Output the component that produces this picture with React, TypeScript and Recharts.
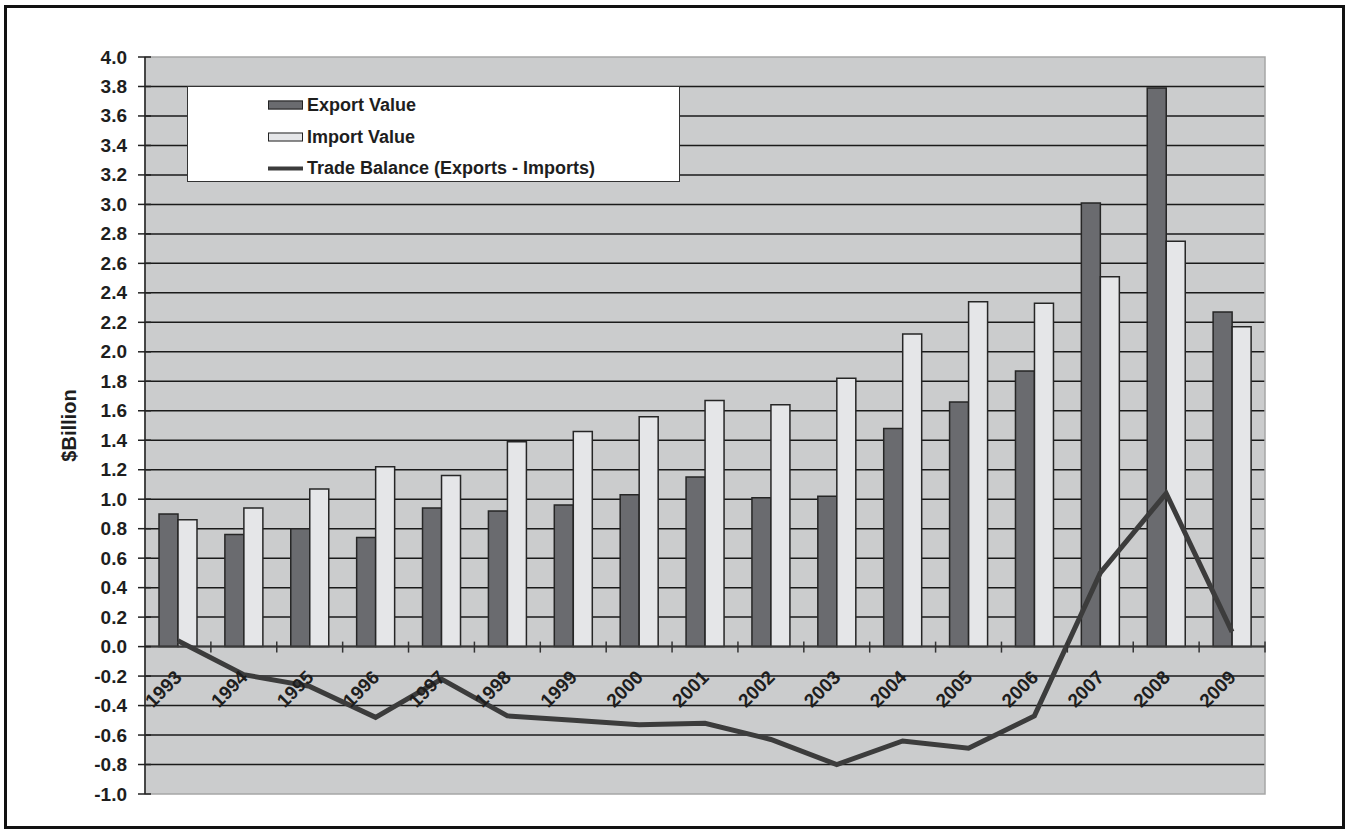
import {
  ComposedChart,
  Bar,
  Line,
  XAxis,
  YAxis,
  CartesianGrid,
  ReferenceLine,
  ReferenceArea,
} from "recharts";

const YEARS = [
  "1993", "1994", "1995", "1996", "1997", "1998", "1999", "2000", "2001",
  "2002", "2003", "2004", "2005", "2006", "2007", "2008", "2009",
];
const EXPORTS = [0.9, 0.76, 0.8, 0.74, 0.94, 0.92, 0.96, 1.03, 1.15, 1.01, 1.02, 1.48, 1.66, 1.87, 3.01, 3.79, 2.27];
const IMPORTS = [0.86, 0.94, 1.07, 1.22, 1.16, 1.39, 1.46, 1.56, 1.67, 1.64, 1.82, 2.12, 2.34, 2.33, 2.51, 2.75, 2.17];
const BALANCE = [0.04, -0.19, -0.27, -0.48, -0.22, -0.47, -0.5, -0.53, -0.52, -0.63, -0.8, -0.64, -0.69, -0.47, 0.5, 1.04, 0.1];

const Y_TICKS = [-1, -0.8, -0.6, -0.4, -0.2, 0, 0.2, 0.4, 0.6, 0.8, 1, 1.2, 1.4, 1.6, 1.8, 2, 2.2, 2.4, 2.6, 2.8, 3, 3.2, 3.4, 3.6, 3.8, 4];
const GRID_VALUES = Y_TICKS.filter((v) => v > -1 && v < 4);

const SERIES = {
  exports: "Export Value",
  imports: "Import Value",
  balance: "Trade Balance (Exports - Imports)",
};

const data = YEARS.map((year, i) => ({
  year,
  exports: EXPORTS[i],
  imports: IMPORTS[i],
  balance: BALANCE[i],
}));

// chart geometry
const W = 1346;
const H = 832;
const AXIS_X = 145;
const PLOT_TOP = 57;
const PLOT_RIGHT = 1265;
const X_AXIS_H = 38;
const PLOT_H = H - X_AXIS_H - PLOT_TOP;
const PLOT_W = PLOT_RIGHT - AXIS_X;
const BAND = PLOT_W / YEARS.length;
const Y_MIN = -1;
const Y_MAX = 4;
const ZERO_Y = PLOT_TOP + (PLOT_H * Y_MAX) / (Y_MAX - Y_MIN);

const FONT = "'Liberation Sans', Arial, Helvetica, sans-serif";
const INK = "#1e1e1e";
const EXPORT_FILL = "#6a6b6f";
const IMPORT_FILL = "#e5e6e8";
const LINE_COLOR = "#3c3c3c";

function YearTick(props: any) {
  const { x, payload } = props;
  const tx = x + 5;
  const ty = ZERO_Y + 32;
  return (
    <g>
      <line x1={x + BAND / 2} x2={x + BAND / 2} y1={ZERO_Y - 5} y2={ZERO_Y + 6} stroke="#333" strokeWidth={1.5} />
      <text
        x={tx}
        y={ty}
        transform={`rotate(-45 ${tx} ${ty})`}
        textAnchor="end"
        fontFamily={FONT}
        fontWeight="bold"
        fontSize={19}
        fill={INK}
      >
        {payload.value}
      </text>
    </g>
  );
}

function ValueTick(props: any) {
  const { y, payload } = props;
  return (
    <g>
      <line x1={AXIS_X - 7} x2={AXIS_X + 6} y1={y} y2={y} stroke="#222" strokeWidth={1.5} />
      <text
        x={AXIS_X - 18}
        y={y}
        textAnchor="end"
        dominantBaseline="central"
        fontFamily={FONT}
        fontWeight="bold"
        fontSize={19}
        fill={INK}
      >
        {Number(payload.value).toFixed(1)}
      </text>
    </g>
  );
}

function AxisTitle(props: any) {
  const { viewBox } = props;
  const cx = 69;
  const cy = viewBox.y + viewBox.height / 2;
  return (
    <text
      x={cx}
      y={cy}
      transform={`rotate(-90 ${cx} ${cy})`}
      textAnchor="middle"
      dominantBaseline="central"
      fontFamily={FONT}
      fontWeight="bold"
      fontSize={20}
      fill={INK}
    >
      $Billion
    </text>
  );
}

function LegendBox() {
  const rows = [
    { key: "exports", kind: "bar", fill: EXPORT_FILL, top: 18 },
    { key: "imports", kind: "bar", fill: IMPORT_FILL, top: 50 },
    { key: "balance", kind: "line", fill: LINE_COLOR, top: 81 },
  ];
  return (
    <div
      style={{
        position: "absolute",
        left: 187,
        top: 86,
        width: 493,
        height: 96,
        boxSizing: "border-box",
        background: "#fff",
        border: "1.5px solid #333",
        fontFamily: FONT,
        fontWeight: "bold",
        fontSize: 18,
        color: INK,
      }}
    >
      {rows.map((r) => (
        <div
          key={r.key}
          style={{ position: "absolute", left: 80, top: r.top, transform: "translateY(-50%)", display: "flex", alignItems: "center" }}
        >
          {r.kind === "bar" ? (
            <span
              style={{
                display: "inline-block",
                width: 35,
                height: 9,
                boxSizing: "border-box",
                background: r.fill,
                border: "1.5px solid #222",
              }}
            />
          ) : (
            <span style={{ display: "inline-block", width: 35, height: 4, background: r.fill }} />
          )}
          <span style={{ marginLeft: 4, whiteSpace: "nowrap" }}>{SERIES[r.key as keyof typeof SERIES]}</span>
        </div>
      ))}
    </div>
  );
}

export default function App() {
  return (
    <div style={{ position: "absolute", left: 0, top: 0, width: W, height: H, background: "#fff" }}>
      <ComposedChart
        width={W}
        height={H}
        data={data}
        margin={{ top: PLOT_TOP, right: W - PLOT_RIGHT, bottom: 0, left: 0 }}
        barGap={0}
      >
        <CartesianGrid
          vertical={false}
          horizontalValues={GRID_VALUES}
          stroke="#1a1a1a"
          strokeWidth={1.5}
          fill="#cbcccd"
          fillOpacity={1}
        />
        <ReferenceArea y1={Y_MIN} y2={Y_MAX} fill="none" stroke="#a6a6a6" strokeWidth={1.5} ifOverflow="visible" />
        <XAxis
          dataKey="year"
          height={X_AXIS_H}
          axisLine={false}
          tickLine={false}
          interval={0}
          tick={<YearTick />}
        />
        <YAxis
          width={AXIS_X}
          domain={[Y_MIN, Y_MAX]}
          ticks={Y_TICKS}
          interval={0}
          allowDataOverflow
          axisLine={{ stroke: "#222", strokeWidth: 1.5 }}
          tickLine={false}
          tick={<ValueTick />}
          label={<AxisTitle />}
        />
        <Bar dataKey="exports" name={SERIES.exports} fill={EXPORT_FILL} stroke="#262626" strokeWidth={1.5} barSize={19} isAnimationActive={false} />
        <Bar dataKey="imports" name={SERIES.imports} fill={IMPORT_FILL} stroke="#262626" strokeWidth={1.5} barSize={19} isAnimationActive={false} />
        <ReferenceLine y={0} stroke="#3a3a3a" strokeWidth={2} />
        <Line
          type="linear"
          dataKey="balance"
          name={SERIES.balance}
          stroke={LINE_COLOR}
          strokeWidth={5}
          dot={false}
          activeDot={false}
          isAnimationActive={false}
        />
      </ComposedChart>
      <LegendBox />
      <div
        style={{
          position: "absolute",
          left: 4,
          top: 5,
          width: 1341,
          height: 824,
          boxSizing: "border-box",
          border: "3px solid #111",
          pointerEvents: "none",
        }}
      />
    </div>
  );
}
